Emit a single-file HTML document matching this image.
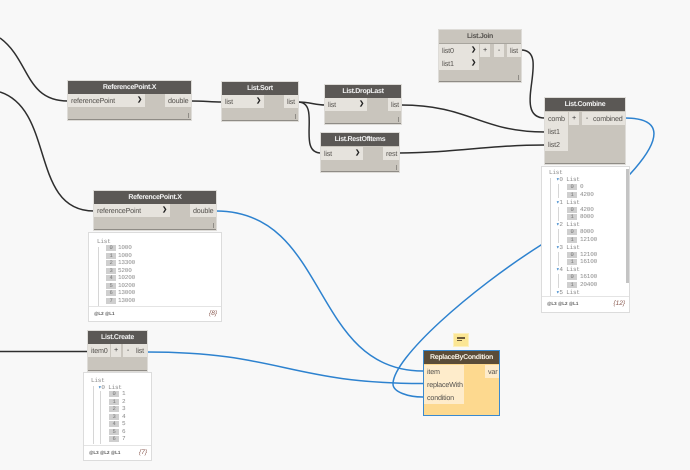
<!DOCTYPE html>
<html><head><meta charset="utf-8"><style>
html,body{margin:0;padding:0;background:#f8f8f8}
#c{position:relative;width:690px;height:470px;overflow:hidden;background:#f8f8f8;font-family:"Liberation Sans",sans-serif;font-size:7.2px;letter-spacing:-.2px;color:#55524e;text-rendering:geometricPrecision;filter:blur(.25px)}
.n{position:absolute;background:#c9c5bd;border-bottom:1px solid #8f8c86;box-shadow:0 0 0 1px #dedcd8}
.h{position:absolute;left:0;right:0;top:0;height:13px;background:#5b5855;color:#f2f2f2;font-weight:bold;text-align:center;line-height:13px;font-size:7px;letter-spacing:-.3px}
.h.l{background:#c9c5bd;color:#55524e;border-bottom:1px solid #a8a59e}
.p{position:absolute;height:13px;line-height:13px;background:#e6e3dd;padding-left:3px;box-sizing:border-box;white-space:nowrap}
.a{position:absolute;right:3px;top:0;font-weight:bold;color:#222;font-size:6px}
.b{position:absolute;height:13px;width:10px;background:#e6e3dd;text-align:center;line-height:12px;color:#333}
.m{position:absolute;right:2px;bottom:1px;width:1px;height:5px;background:#8f8c86}
.w{position:absolute;background:#fff;border:1px solid #dcdcdc;box-sizing:border-box;overflow:hidden;font-family:"Liberation Mono",monospace;font-size:6px;letter-spacing:-.2px;color:#8a8a8a}
.t{position:absolute;white-space:nowrap;line-height:8px}
.i{position:absolute;width:10px;height:6px;background:#cfcfcf;color:#777;font-size:5.5px;line-height:6px;text-align:center}
.v{position:absolute;width:1px;background:#d6d6d6}
.f{position:absolute;left:0;right:0;bottom:0;height:14px;border-top:1px solid #e4e4e4;background:#fff;font-size:4.5px;line-height:14px;padding-left:5px;color:#555;font-family:"Liberation Sans",sans-serif;font-weight:bold;letter-spacing:0}
.c{position:absolute;right:4px;top:0;font-size:6.5px;font-weight:normal;font-style:italic;color:#8a5a50}
.e{color:#3a85c9}
</style></head><body><div id="c">
<svg style="position:absolute;left:0;top:0" width="690" height="470" fill="none">
<g stroke="#2e2e2e" stroke-width="1.5">
<path d="M0 38C30 60 25 101 68 101"/>
<path d="M0 92C55 110 30 211 94 211"/>
<path d="M0 351.500H88"/>
<path d="M191 101C205 101 210 102 222 102"/>
<path d="M298 102C310 102 315 105 325 105"/>
<path d="M298 102C322 102 296 153 321 153"/>
<path d="M401 105C470 105 480 132 545 132"/>
<path d="M399 153C450 153 490 145 545 145"/>
<path d="M521 50C552 50 510 118 545 118"/>
</g>
<g stroke="#2d82cf" stroke-width="1.5">
<path d="M216 211C330 211 310 371 423 371"/>
<path d="M147 352C280 352 290 383.500 423 383.500"/>
<path d="M625 118C705 118 600 210 541 245C470 290 393 358 393 384C393 392 408 397 423 397"/>
</g>
</svg>

<div class="n" style="left:68px;top:81px;width:123px;height:38px"><div class="h">ReferencePoint.X</div><div class="p" style="left:0;top:13px;width:77px">referencePoint<span class="a">&#10095;</span></div><div class="p" style="right:0;top:13px;width:26px">double</div><div class="m"></div></div>
<div class="n" style="left:222px;top:82px;width:76px;height:38px"><div class="h">List.Sort</div><div class="p" style="left:0;top:13px;width:42px">list<span class="a">&#10095;</span></div><div class="p" style="right:0;top:13px;width:14px">list</div><div class="m"></div></div>
<div class="n" style="left:439px;top:30px;width:82px;height:51px"><div class="h l">List.Join</div><div class="p" style="left:0;top:14px;width:40px">list0<span class="a">&#10095;</span></div><div class="p" style="left:0;top:27px;width:40px">list1<span class="a">&#10095;</span></div><div class="b" style="left:41px;top:14px">+</div><div class="b" style="left:55px;top:14px">-</div><div class="p" style="right:0;top:14px;width:14px">list</div><div class="m"></div></div>
<div class="n" style="left:325px;top:85px;width:76px;height:38px"><div class="h">List.DropLast</div><div class="p" style="left:0;top:13px;width:42px">list<span class="a">&#10095;</span></div><div class="p" style="right:0;top:13px;width:13px">list</div><div class="m"></div></div>
<div class="n" style="left:321px;top:133px;width:78px;height:38px"><div class="h">List.RestOfItems</div><div class="p" style="left:0;top:14px;width:42px">list<span class="a">&#10095;</span></div><div class="p" style="right:0;top:14px;width:16px">rest</div><div class="m"></div></div>
<div class="n" style="left:545px;top:98px;width:80px;height:65px"><div class="h">List.Combine</div><div class="p" style="left:0;top:14px;width:23px">comb</div><div class="p" style="left:0;top:27px;width:23px">list1</div><div class="p" style="left:0;top:40px;width:23px">list2</div><div class="b" style="left:24px;top:14px">+</div><div class="b" style="left:37px;top:14px">-</div><div class="p" style="right:0;top:14px;width:35px">combined</div></div>

<div class="n" style="left:94px;top:191px;width:122px;height:38px"><div class="h">ReferencePoint.X</div><div class="p" style="left:0;top:13px;width:76px">referencePoint<span class="a">&#10095;</span></div><div class="p" style="right:0;top:13px;width:26px">double</div><div class="m"></div></div>
<div class="n" style="left:88px;top:331px;width:59px;height:39px"><div class="h">List.Create</div><div class="p" style="left:0;top:13px;width:22px">item0</div><div class="b" style="left:23px;top:13px">+</div><div class="b" style="left:35px;top:13px">-</div><div class="p" style="right:0;top:13px;width:14px">list</div></div>

<div class="w" style="left:88px;top:232px;width:134px;height:90px">
<div class="t" style="left:8px;top:5px">List</div><div class="v" style="left:9px;top:14px;height:62px"></div>
<div class="i" style="left:17px;top:12px">0</div><div class="t" style="left:29px;top:11px">1000</div>
<div class="i" style="left:17px;top:19.500px">1</div><div class="t" style="left:29px;top:18.500px">1000</div>
<div class="i" style="left:17px;top:27px">2</div><div class="t" style="left:29px;top:26px">13300</div>
<div class="i" style="left:17px;top:34.500px">3</div><div class="t" style="left:29px;top:33.500px">5200</div>
<div class="i" style="left:17px;top:42px">4</div><div class="t" style="left:29px;top:41px">10200</div>
<div class="i" style="left:17px;top:49.500px">5</div><div class="t" style="left:29px;top:48.500px">10200</div>
<div class="i" style="left:17px;top:57px">6</div><div class="t" style="left:29px;top:56px">13000</div>
<div class="i" style="left:17px;top:64.500px">7</div><div class="t" style="left:29px;top:63.500px">13000</div>
<div class="f">@L2 @L1<span class="c">{8}</span></div></div>

<div class="w" style="left:83px;top:372px;width:69px;height:89px">
<div class="t" style="left:7px;top:4px">List</div><div class="v" style="left:9px;top:13px;height:58px"></div><div class="v" style="left:16px;top:18px;height:53px"></div>
<div class="t" style="left:14px;top:11px"><span class="e">&#9662;</span>0 List</div>
<div class="i" style="left:25px;top:18px">0</div><div class="t" style="left:38px;top:17px">1</div>
<div class="i" style="left:25px;top:25.500px">1</div><div class="t" style="left:38px;top:24.500px">2</div>
<div class="i" style="left:25px;top:33px">2</div><div class="t" style="left:38px;top:32px">3</div>
<div class="i" style="left:25px;top:40.500px">3</div><div class="t" style="left:38px;top:39.500px">4</div>
<div class="i" style="left:25px;top:48px">4</div><div class="t" style="left:38px;top:47px">5</div>
<div class="i" style="left:25px;top:55.500px">5</div><div class="t" style="left:38px;top:54.500px">6</div>
<div class="i" style="left:25px;top:63px">6</div><div class="t" style="left:38px;top:62px">7</div>
<div class="f">@L3 @L2 @L1<span class="c">{7}</span></div></div>

<div class="w" style="left:541px;top:166px;width:89px;height:147px">
<div class="t" style="left:7px;top:2px">List</div><div class="v" style="left:8px;top:11px;height:120px"></div>
<div class="v" style="left:16px;top:17px;height:14px"></div><div class="v" style="left:16px;top:40px;height:14px"></div><div class="v" style="left:16px;top:62px;height:14px"></div><div class="v" style="left:16px;top:85px;height:14px"></div><div class="v" style="left:16px;top:107px;height:14px"></div>
<div class="t" style="left:14px;top:9px"><span class="e">&#9662;</span>0 List</div><div class="i" style="left:25px;top:17px">0</div><div class="t" style="left:38px;top:16px">0</div><div class="i" style="left:25px;top:24.500px">1</div><div class="t" style="left:38px;top:23.500px">4200</div>
<div class="t" style="left:14px;top:31.500px"><span class="e">&#9662;</span>1 List</div><div class="i" style="left:25px;top:39.500px">0</div><div class="t" style="left:38px;top:38.500px">4200</div><div class="i" style="left:25px;top:47px">1</div><div class="t" style="left:38px;top:46px">8000</div>
<div class="t" style="left:14px;top:54px"><span class="e">&#9662;</span>2 List</div><div class="i" style="left:25px;top:62px">0</div><div class="t" style="left:38px;top:61px">8000</div><div class="i" style="left:25px;top:69.500px">1</div><div class="t" style="left:38px;top:68.500px">12100</div>
<div class="t" style="left:14px;top:76.500px"><span class="e">&#9662;</span>3 List</div><div class="i" style="left:25px;top:84.500px">0</div><div class="t" style="left:38px;top:83.500px">12100</div><div class="i" style="left:25px;top:92px">1</div><div class="t" style="left:38px;top:91px">16100</div>
<div class="t" style="left:14px;top:99px"><span class="e">&#9662;</span>4 List</div><div class="i" style="left:25px;top:107px">0</div><div class="t" style="left:38px;top:106px">16100</div><div class="i" style="left:25px;top:114.500px">1</div><div class="t" style="left:38px;top:113.500px">20400</div>
<div class="t" style="left:14px;top:121.500px"><span class="e">&#9662;</span>5 List</div><div class="i" style="left:25px;top:129.500px">0</div><div class="t" style="left:38px;top:128.500px">20400</div>
<div style="position:absolute;left:84px;top:2px;width:3px;height:114px;background:#c4c4c4"></div>
<div class="f" style="height:15px">@L3 @L2 @L1<span class="c">{12}</span></div></div>

<div style="position:absolute;left:454px;top:334px;width:14px;height:12px;background:#fbe694;box-shadow:0 0 0 1px #fdf0bd"><div style="position:absolute;left:3px;top:3px;width:8px;height:2px;background:#6b5a3a"></div><div style="position:absolute;left:3px;top:6px;width:5px;height:1px;background:#6b5a3a"></div></div>
<div style="position:absolute;left:423px;top:350px;width:77px;height:66px;box-sizing:border-box;border:1px solid #3a8ad0;background:#fdd98f">
<div style="position:absolute;left:0;right:0;top:0;height:13px;background:#5a4c38;color:#f7f2e6;font-weight:bold;font-size:7px;text-align:center;line-height:13px;letter-spacing:-.3px">ReplaceByCondition</div>
<div class="p" style="left:0;top:14px;width:40px;background:#feeccb">item</div><div class="p" style="left:0;top:27px;width:40px;background:#feeccb">replaceWith</div><div class="p" style="left:0;top:40px;width:40px;background:#feeccb">condition</div><div class="p" style="right:0;top:14px;width:14px;background:#feeccb">var</div>
</div>
</div></body></html>
